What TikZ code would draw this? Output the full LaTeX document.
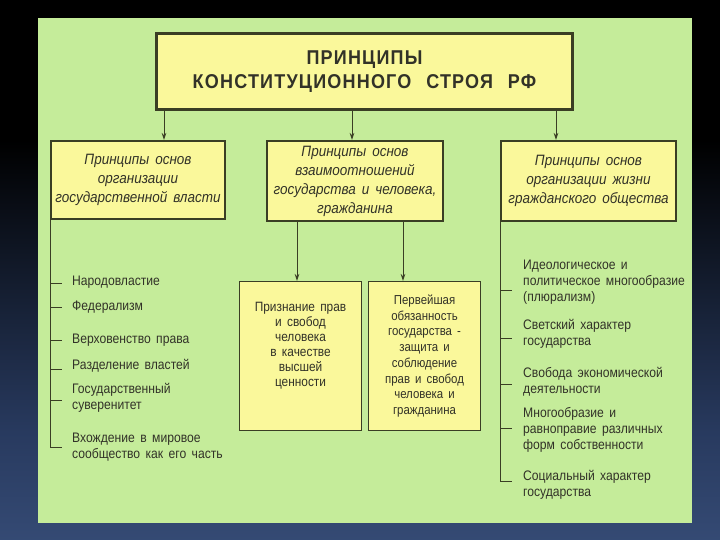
\documentclass[tikz,border=0pt]{standalone}
\usepackage{fontspec}
\setmainfont{Liberation Sans}
\newfontfamily\itemfont[FakeStretch=0.88,WordSpace=1.6]{Liberation Sans}
\newfontfamily\titlefont[FakeStretch=0.9,WordSpace=2.4,LetterSpace=6]{Liberation Sans Bold}
\newfontfamily\subfont[FakeStretch=0.9,WordSpace=1.6]{Liberation Sans Italic}
\usetikzlibrary{arrows.meta}
\definecolor{panelgreen}{RGB}{197,236,154}
\definecolor{boxyellow}{RGB}{250,248,155}
\definecolor{edgecol}{RGB}{58,62,36}
\definecolor{txtcol}{RGB}{50,50,40}
\definecolor{bgblue}{RGB}{84,114,168}
\definecolor{bgmid}{RGB}{40,58,95}
\pgfdeclareverticalshading{bgshade}{100bp}{color(0bp)=(bgblue); color(35bp)=(bgmid); color(62bp)=(black); color(100bp)=(black)}
\tikzset{
  ybox/.style={draw=edgecol, fill=boxyellow, inner sep=0pt, align=center, text=txtcol, anchor=north west},
  topbox/.style={ybox, line width=3pt, font=\titlefont\fontsize{20}{24}\selectfont},
  subbox/.style={ybox, line width=2pt, font=\subfont\fontsize{15}{19}\selectfont},
  lowbox/.style={ybox, line width=1.1pt, font=\itemfont\fontsize{13.5}{15}\selectfont},
  itm/.style={anchor=west, align=left, inner sep=0pt, text=txtcol, font=\itemfont\fontsize{13.8}{16}\selectfont},
  conn/.style={draw=edgecol, line width=1pt},
  arr/.style={conn, -{Stealth[length=7pt,width=4.5pt]}},
}
\begin{document}
\begin{tikzpicture}[x=1pt,y=-1pt]
\useasboundingbox (0,0) rectangle (720,540);
\shade[shading=bgshade] (0,0) rectangle (720,540);
\fill[panelgreen] (38,18) rectangle (692,523);
% boxes
\node[topbox, minimum width=416, minimum height=76] (top) at (155,32) {ПРИНЦИПЫ\\КОНСТИТУЦИОННОГО  СТРОЯ  РФ};
\node[subbox, minimum width=174, minimum height=78] (b1) at (50,140) {Принципы  основ\\организации\\государственной  власти};
\node[subbox, minimum width=176, minimum height=80] (b2) at (266,140) {Принципы  основ\\взаимоотношений\\государства  и  человека,\\гражданина};
\node[subbox, minimum width=175, minimum height=80] (b3) at (500,140) {Принципы  основ\\организации  жизни\\гражданского  общества};
\node[lowbox, minimum width=122, minimum height=149] (c1) at (239,281) {Признание  прав\\и  свобод\\человека\\в  качестве\\высшей\\ценности\\[8pt]};
\node[lowbox, minimum width=112, minimum height=149, font=\itemfont\fontsize{13}{15.7}\selectfont] (c2) at (368,281) {Первейшая\\обязанность\\государства  -\\защита  и\\соблюдение\\прав  и  свобод\\человека  и\\гражданина};
% arrows from top
\coordinate (xa) at (164,0);
\coordinate (xb) at (352,0);
\coordinate (xc) at (556,0);
\coordinate (xd) at (297,0);
\coordinate (xe) at (403,0);
\draw[arr] (top.south -| xa) -- (b1.north -| xa);
\draw[arr] (top.south -| xb) -- (b2.north -| xb);
\draw[arr] (top.south -| xc) -- (b3.north -| xc);
\draw[arr] (b2.south -| xd) -- (c1.north -| xd);
\draw[arr] (b2.south -| xe) -- (c2.north -| xe);
% left list
\node[itm] (l1) at (72,282) {Народовластие};
\node[itm] (l2) at (72,307) {Федерализм};
\node[itm] (l3) at (72,340) {Верховенство  права};
\node[itm] (l4) at (72,366) {Разделение  властей};
\node[itm] (l5) at (72,398) {Государственный\\суверенитет};
\node[itm] (l6) at (72,447) {Вхождение  в  мировое\\сообщество  как  его  часть};
\coordinate (lend) at (50,447);
\draw[conn] (b1.south west) -- (lend) -- ++(12,0);
\foreach \i/\dy in {l1/-1,l2/0,l3/0,l4/-3,l5/-2}{
  \draw[conn] ([yshift=\dy]\i.west -| lend) -- ++(12,0);
}
% right list
\node[itm] (r1) at (523,282) {Идеологическое  и\\политическое  многообразие\\(плюрализм)};
\node[itm] (r2) at (523,334) {Светский  характер\\государства};
\node[itm] (r3) at (523,382) {Свобода  экономической\\деятельности};
\node[itm] (r4) at (523,430) {Многообразие  и\\равноправие  различных\\форм  собственности};
\node[itm] (r5) at (523,485) {Социальный  характер\\государства};
\coordinate (rend) at (500,481);
\draw[conn] (b3.south west) -- (rend) -- ++(12,0);
\foreach \i/\dy in {r1/-8,r2/-4,r3/-2,r4/2}{
  \draw[conn] ([yshift=\dy]\i.west -| rend) -- ++(12,0);
}
\end{tikzpicture}
\end{document}
